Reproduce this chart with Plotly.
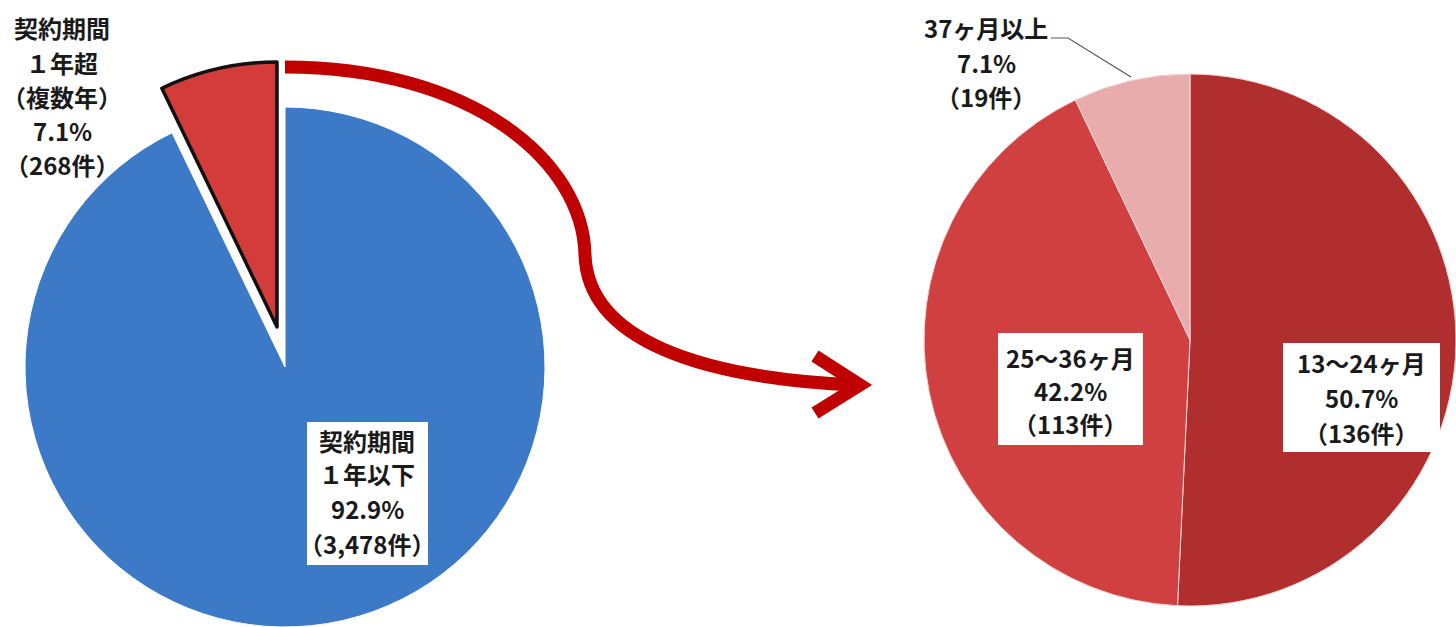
import plotly.graph_objects as go

W, H = 1456, 627

# ---- data ----
outer_names = ["契約期間|１年以下", "契約期間|１年超|（複数年）"]
outer_counts = [3478, 268]
outer_pcts = [92.9, 7.1]

inner_names = ["13～24ヶ月", "25～36ヶ月", "37ヶ月以上"]
inner_counts = [136, 113, 19]
inner_pcts = [50.7, 42.2, 7.1]

FONT = "Noto Sans CJK JP"


def px(x):
    return x / W


def py(y):
    return 1 - y / H


def dom(cx, cy, r):
    return dict(x=[max(0, px(cx - r)), min(1, px(cx + r))],
                y=[max(0, py(cy + r)), min(1, py(cy - r))])


BLUE = "#3c7ac8"
RED_L = "#d43c3c"
CLEAR = "rgba(0,0,0,0)"

fig = go.Figure()

# left pie - the kept (blue) part
fig.add_trace(go.Pie(
    labels=[n.replace("|", "") for n in outer_names], values=outer_counts,
    sort=False, direction="clockwise", rotation=0, textinfo="none",
    marker=dict(colors=[BLUE, CLEAR], line=dict(color=["#ffffff", CLEAR], width=[1, 0])),
    domain=dom(285, 367, 260), hoverinfo="label+value+percent",
))
# left pie - the pulled-out (red) slice
fig.add_trace(go.Pie(
    labels=[n.replace("|", "") for n in outer_names], values=outer_counts,
    sort=False, direction="clockwise", rotation=0, textinfo="none",
    marker=dict(colors=[CLEAR, RED_L], line=dict(color=[CLEAR, "#111111"], width=[0, 3.5])),
    domain=dom(277, 327, 265), hoverinfo="label+value+percent",
))
# right pie
fig.add_trace(go.Pie(
    labels=inner_names, values=inner_counts,
    sort=False, direction="clockwise", rotation=0, textinfo="none",
    marker=dict(colors=["#b02f2e", "#d04040", "#e9acac"],
                line=dict(color="#f2d6d6", width=1)),
    domain=dom(1190, 340, 266), hoverinfo="label+value+percent",
))

shapes = []
annotations = []


def add_lines(lines, x, ys):
    for t, y in zip(lines, ys):
        annotations.append(dict(
            text=t, x=px(x), y=py(y), xref="paper", yref="paper",
            xanchor="center", yanchor="middle", showarrow=False,
            font=dict(family=FONT, size=24, color="#1a1a1a", weight="bold"),
        ))


def add_box(x0, y0, x1, y1):
    shapes.append(dict(type="rect", xref="paper", yref="paper",
                       x0=px(x0), x1=px(x1), y0=py(y1), y1=py(y0),
                       fillcolor="white", line=dict(width=0), layer="above"))


# left labels
red_lines = outer_names[1].split("|") + [f"{outer_pcts[1]}%", f"（{outer_counts[1]:,}件）"]
add_lines(red_lines, 62, [27, 62, 97, 131, 165])

add_box(307, 422, 428, 565)
blue_lines = outer_names[0].split("|") + [f"{outer_pcts[0]}%", f"（{outer_counts[0]:,}件）"]
add_lines(blue_lines, 367, [440, 474, 508, 543])

# right labels
add_lines([inner_names[2], f"{inner_pcts[2]}%", f"（{inner_counts[2]}件）"], 986, [27, 62, 96])

add_box(998, 333, 1143, 445)
add_lines([inner_names[1], f"{inner_pcts[1]}%", f"（{inner_counts[1]}件）"], 1070, [357, 390, 423])

add_box(1283, 343, 1440, 452)
add_lines([inner_names[0], f"{inner_pcts[0]}%", f"（{inner_counts[0]}件）"], 1361, [362, 398, 432])


def path(cmds):
    out = []
    for c in cmds:
        if isinstance(c, str):
            out.append(c)
        else:
            out.append(f"{px(c[0]):.5f},{py(c[1]):.5f}")
    return " ".join(out)


# leader line for 37ヶ月以上
shapes.append(dict(type="path", xref="paper", yref="paper",
                   path=path(["M", (1051, 38), "L", (1068, 38), "L", (1131, 77)]),
                   line=dict(color="#555555", width=1.2), layer="above"))

# curved arrow
ARROW = "#c00000"
shapes.append(dict(type="path", xref="paper", yref="paper",
                   path=path(["M", (285, 67), "C", (470, 67), (583, 160), (585, 255),
                              "C", (588, 340), (700, 378), (856, 385)]),
                   line=dict(color=ARROW, width=13), layer="above"))
shapes.append(dict(type="path", xref="paper", yref="paper",
                   path=path(["M", (815, 356), "L", (860, 385), "L", (815, 413)]),
                   line=dict(color=ARROW, width=13), layer="above"))

fig.update_layout(
    width=W, height=H,
    margin=dict(l=0, r=0, t=0, b=0),
    paper_bgcolor="white", plot_bgcolor="white",
    showlegend=False,
    shapes=shapes, annotations=annotations,
)

fig.write_html("out.html", config={"displayModeBar": False},
               post_script="document.body.style.margin='0';document.body.style.overflow='hidden';")
